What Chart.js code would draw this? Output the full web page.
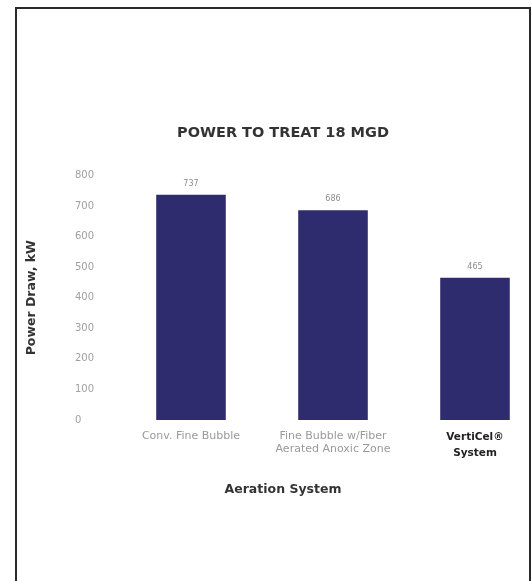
<!DOCTYPE html>
<html>
<head>
<meta charset="utf-8">
<script src="https://cdn.jsdelivr.net/npm/chart.js@4/dist/chart.umd.min.js"></script>
<style>
  html, body { margin: 0; padding: 0; background: #ffffff; overflow: hidden; }
  #wrap { position: relative; width: 560px; height: 581px; }
  #frame { position: absolute; left: 15px; top: 7px; width: 512px; height: 600px;
           border-left: 2px solid #2a2a2a; border-top: 2px solid #2a2a2a; border-right: 2px solid #2a2a2a;
           pointer-events: none; }
</style>
</head>
<body>
<div id="wrap">
  <canvas id="c"></canvas>
  <div id="frame"></div>
</div>
<script>
const chartTitle = "POWER TO TREAT 18 MGD";
const xAxisTitle = "Aeration System";
const yAxisTitle = "Power Draw, kW";
const categories = [
  ["Conv. Fine Bubble"],
  ["Fine Bubble w/Fiber", "Aerated Anoxic Zone"],
  ["VertiCel®", "System"]
];
const powerKW = [737, 686, 465];
const yMin = 0;
const yMax = 800;
const yStep = 100;

const FONT = "'DejaVu Sans', sans-serif";

const valueLabels = {
  id: 'valueLabels',
  afterDatasetsDraw(chart) {
    const ctx = chart.ctx;
    const meta = chart.getDatasetMeta(0);
    ctx.save();
    ctx.fillStyle = '#8c8c8c';
    ctx.font = "8px " + FONT;
    ctx.textAlign = 'center';
    ctx.textBaseline = 'bottom';
    meta.data.forEach((bar, i) => {
      ctx.fillText(String(chart.data.datasets[0].data[i]), bar.x, bar.y - 7);
    });
    ctx.restore();
  }
};

new Chart(document.getElementById('c'), {
  type: 'bar',
  data: {
    labels: categories,
    datasets: [{
      data: powerKW,
      backgroundColor: '#2e2c6e',
      borderWidth: 0,
      categoryPercentage: 1,
      barPercentage: 0.49
    }]
  },
  options: {
    responsive: true,
    maintainAspectRatio: false,
    animation: false,
    layout: { padding: { left: 20, right: 14, top: 0, bottom: 0 } },
    plugins: {
      legend: { display: false },
      tooltip: { enabled: false },
      title: {
        display: true,
        text: chartTitle,
        color: '#333333',
        font: { family: FONT, size: 14.5, weight: 'bold', lineHeight: 1.2 },
        padding: { top: 125, bottom: 33 }
      },
      subtitle: {
        display: true,
        position: 'bottom',
        text: xAxisTitle,
        color: '#333333',
        font: { family: FONT, size: 12.5, weight: 'bold', lineHeight: 1.2 },
        padding: { top: 10, bottom: 84 }
      }
    },
    scales: {
      x: {
        grid: { display: false, drawTicks: false },
        border: { display: false },
        afterFit(scale) { scale.height = 52; },
        ticks: {
          padding: 10,
          maxRotation: 0,
          autoSkip: false,
          color: (ctx) => ctx.index === 2 ? '#222222' : '#9a9a9a',
          font: (ctx) => ctx.index === 2
            ? { family: FONT, size: 10.5, weight: 'bold', lineHeight: 1.45 }
            : { family: FONT, size: 11, weight: 'normal', lineHeight: 1.15 }
        }
      },
      yTitleAxis: {
        type: 'linear',
        position: 'left',
        weight: 1,
        min: yMin,
        max: yMax,
        grid: { display: false, drawTicks: false },
        border: { display: false },
        ticks: { display: false },
        afterFit(scale) { scale.width = 55; },
        title: {
          display: true,
          text: yAxisTitle,
          color: '#333333',
          font: { family: FONT, size: 12.5, weight: 'bold', lineHeight: 1.2 },
          padding: { top: 4.5, bottom: 0 }
        }
      },
      y: {
        position: 'left',
        weight: 0,
        min: yMin,
        max: yMax,
        grid: { display: false, drawTicks: false },
        border: { display: false },
        afterFit(scale) { scale.width = 45; },
        ticks: {
          stepSize: yStep,
          crossAlign: 'far',
          color: '#a0a0a0',
          font: { family: FONT, size: 10 }
        }
      }
    }
  },
  plugins: [valueLabels]
});
</script>
</body>
</html>
